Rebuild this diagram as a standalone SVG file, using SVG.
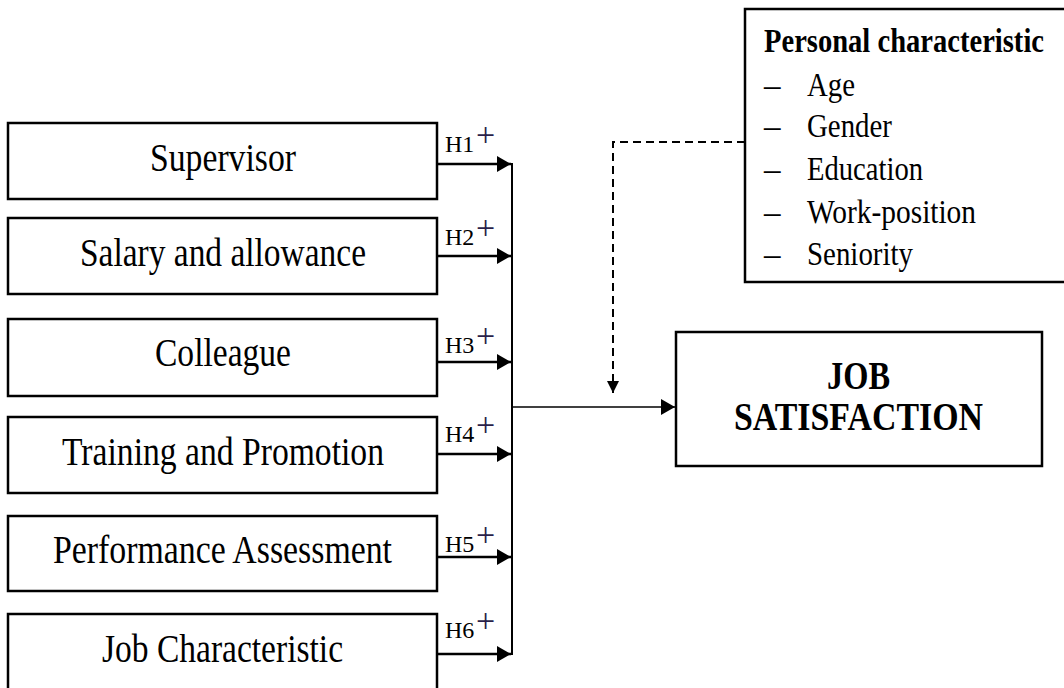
<svg xmlns="http://www.w3.org/2000/svg" width="1064" height="688" viewBox="0 0 1064 688">
<defs>
<style>
.box{fill:#fff;stroke:#000;stroke-width:2.5}
.t{font-family:"Liberation Serif","Times New Roman",serif;fill:#000}
.lbl{font-size:39px}
.h{font-size:24px}
.plus{font-size:34px;fill:#2a1f4a}
.item{font-size:33px}
.bold{font-weight:bold}
.arr{stroke:#000;stroke-width:2.5;fill:none}
</style>
<marker id="ah" markerUnits="userSpaceOnUse" markerWidth="16" markerHeight="16" refX="14" refY="8" orient="auto">
<path d="M0,0 L14,8 L0,16 Z" fill="#000"/>
</marker>
<marker id="ahd" markerUnits="userSpaceOnUse" markerWidth="12" markerHeight="14" refX="12" refY="6" orient="auto">
<path d="M0,0 L12,6 L0,12 Z" fill="#000"/>
</marker>
</defs>
<rect width="1064" height="688" fill="#fff"/>

<g id="supervisor"><rect class="box" x="8" y="123" width="429" height="76"/><text class="t lbl" x="150" y="171" textLength="146" lengthAdjust="spacingAndGlyphs">Supervisor</text></g>
<g id="salary"><rect class="box" x="8" y="218" width="429" height="76"/><text class="t lbl" x="80" y="266" textLength="286" lengthAdjust="spacingAndGlyphs">Salary and allowance</text></g>
<g id="colleague"><rect class="box" x="8" y="319" width="429" height="77"/><text class="t lbl" x="155" y="366" textLength="136" lengthAdjust="spacingAndGlyphs">Colleague</text></g>
<g id="training"><rect class="box" x="8" y="417" width="429" height="76"/><text class="t lbl" x="62" y="465" textLength="322" lengthAdjust="spacingAndGlyphs">Training and Promotion</text></g>
<g id="performance"><rect class="box" x="8" y="516" width="429" height="75"/><text class="t lbl" x="53" y="563" textLength="339" lengthAdjust="spacingAndGlyphs">Performance Assessment</text></g>
<g id="jobchar"><rect class="box" x="8" y="614" width="429" height="80"/><text class="t lbl" x="102" y="662" textLength="241" lengthAdjust="spacingAndGlyphs">Job Characteristic</text></g>

<g id="personal">
<rect class="box" x="745" y="9" width="330" height="273"/>
<text class="t item bold" x="764" y="52" textLength="280" lengthAdjust="spacingAndGlyphs">Personal characteristic</text>
<g class="t item">
<text x="764" y="96">–</text><text x="807" y="96" textLength="48" lengthAdjust="spacingAndGlyphs">Age</text>
<text x="764" y="137">–</text><text x="807" y="137" textLength="85" lengthAdjust="spacingAndGlyphs">Gender</text>
<text x="764" y="180">–</text><text x="807" y="180" textLength="116" lengthAdjust="spacingAndGlyphs">Education</text>
<text x="764" y="223">–</text><text x="807" y="223" textLength="169" lengthAdjust="spacingAndGlyphs">Work-position</text>
<text x="764" y="265">–</text><text x="807" y="265" textLength="106" lengthAdjust="spacingAndGlyphs">Seniority</text>
</g>
</g>

<g id="jobsat">
<rect class="box" x="676" y="332" width="366" height="134"/>
<text class="t lbl bold" x="827" y="389" textLength="63" lengthAdjust="spacingAndGlyphs">JOB</text>
<text class="t lbl bold" x="734" y="430" textLength="249" lengthAdjust="spacingAndGlyphs">SATISFACTION</text>
</g>

<g id="connectors">
<line class="arr" x1="437" y1="164" x2="511" y2="164" marker-end="url(#ah)"/>
<line class="arr" x1="437" y1="256" x2="511" y2="256" marker-end="url(#ah)"/>
<line class="arr" x1="437" y1="362" x2="511" y2="362" marker-end="url(#ah)"/>
<line class="arr" x1="437" y1="454" x2="511" y2="454" marker-end="url(#ah)"/>
<line class="arr" x1="437" y1="557" x2="511" y2="557" marker-end="url(#ah)"/>
<line class="arr" x1="437" y1="654" x2="511" y2="654" marker-end="url(#ah)"/>
<line x1="512" y1="163" x2="512" y2="655" stroke="#000" stroke-width="2"/>
<line x1="512" y1="407" x2="675" y2="407" stroke="#000" stroke-width="1.6" marker-end="url(#ah)"/>
<path d="M745,142 H613 V393" fill="none" stroke="#000" stroke-width="2" stroke-dasharray="8,5" marker-end="url(#ahd)"/>
</g>

<g id="labels" class="t h">
<text x="445" y="152">H1</text><text class="plus" x="476" y="146">+</text>
<text x="445" y="245">H2</text><text class="plus" x="476" y="239">+</text>
<text x="445" y="353">H3</text><text class="plus" x="476" y="347">+</text>
<text x="445" y="442">H4</text><text class="plus" x="476" y="436">+</text>
<text x="445" y="552">H5</text><text class="plus" x="476" y="546">+</text>
<text x="445" y="638">H6</text><text class="plus" x="476" y="632">+</text>
</g>
</svg>
